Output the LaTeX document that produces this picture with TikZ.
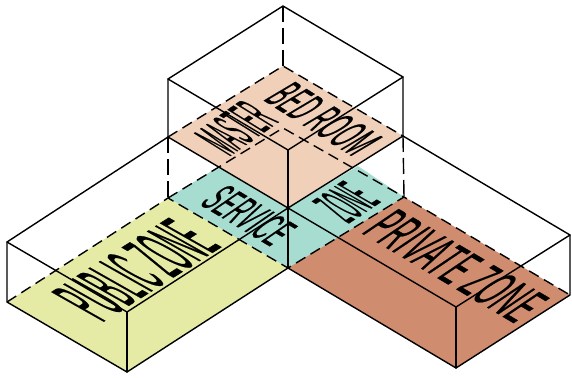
\documentclass[tikz,border=0pt]{standalone}
\usepackage{fontspec}
\setmainfont{Liberation Sans}[FakeBold=0.6,LetterSpace=4]
\definecolor{peach}{RGB}{240,208,184}
\definecolor{tealzone}{RGB}{167,221,209}
\definecolor{yellowzone}{RGB}{229,235,165}
\definecolor{brownzone}{RGB}{208,140,110}
\tikzset{
  solidline/.style={draw=black,line width=1.4pt,line cap=round,line join=round},
  dashline/.style={draw=black,line width=1.4pt,dash pattern=on 11pt off 6pt},
  vdashline/.style={draw=black,line width=1.4pt,dash pattern=on 16pt off 6pt},
  floortext/.style={inner sep=0pt,outer sep=0pt,anchor=south west,transform shape}
}
% name, start x, start y, end x, end y, up dx, up dy, text (pixel coordinates, y downward)
\newcommand{\floorlabel}[8]{%
  \pgfmathsetmacro{\ma}{(#4-#2)/100}%
  \pgfmathsetmacro{\mb}{-(#5-#3)/100}%
  \pgfmathsetmacro{\mc}{(#6)/100}%
  \pgfmathsetmacro{\md}{-(#7)/100}%
  \begin{scope}[cm={\ma,\mb,\mc,\md,(#2,#3)}]
    \node[floortext] (#1) {\resizebox{100pt}{100pt}{#8}};
  \end{scope}}
\begin{document}
\begin{tikzpicture}[x=1pt,y=-1pt]
\useasboundingbox (0,0) rectangle (572,377);
% floors
\fill[peach] (283,66) -- (403,136) -- (288,208) -- (168,137) -- cycle;
\fill[tealzone] (168,198) -- (218,167) -- (288,208) -- (358,166) -- (404,197) -- (288,268) -- cycle;
\fill[yellowzone] (168,198) -- (7,302) -- (127,372) -- (288,268) -- cycle;
\fill[brownzone] (404,197) -- (570,295) -- (456,368) -- (288,268) -- cycle;
% solid box edges
\draw[solidline] (168,137) -- (168,79) -- (283,6) -- (403,77) -- (403,136);
\draw[solidline] (168,79) -- (288,150) -- (403,77);
\draw[solidline] (288,150) -- (288,268);
\draw[solidline] (168,137) -- (288,208) -- (403,136);
\draw[solidline] (168,137) -- (7,242) -- (7,302) -- (127,372) -- (288,268);
\draw[solidline] (7,242) -- (127,312) -- (288,208);
\draw[solidline] (127,312) -- (127,372);
\draw[solidline] (403,136) -- (570,235) -- (570,295) -- (456,368) -- (288,268);
\draw[solidline] (570,235) -- (456,307) -- (288,208);
\draw[solidline] (456,307) -- (456,368);
% hidden edges
\draw[vdashline] (283,6) -- (283,66);
\draw[vdashline] (168,137) -- (168,198);
\draw[vdashline] (403,136) -- (404,197);
\draw[dashline] (168,137) -- (283,66) -- (403,136);
\draw[dashline] (7,302) -- (168,198) -- (288,268) -- (404,197) -- (570,295);
\draw[dashline] (168,198) -- (283,128) -- (404,197);
% labels
\floorlabel{master}{230}{157}{280}{122}{-37}{-23}{MASTER}
\floorlabel{bedroom}{262}{100}{352}{157}{32}{-19}{BED ROOM}
\floorlabel{public}{103}{323}{223}{247}{-53}{-30}{PUBLIC ZONE}
\floorlabel{service}{198}{204}{270}{247}{29}{-20}{SERVICE}
\floorlabel{zone}{349}{224}{382}{202}{-38}{-22}{ZONE}
\floorlabel{private}{360}{233}{514}{324}{37}{-25}{PRIVATE ZONE}
\end{tikzpicture}
\end{document}
